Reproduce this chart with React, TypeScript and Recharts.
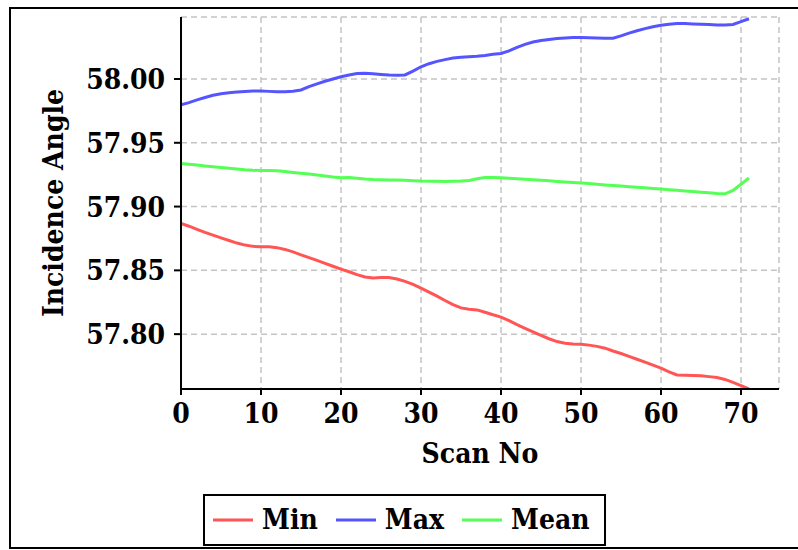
import React from 'react';
import { LineChart, Line, XAxis, YAxis, CartesianGrid, Legend } from 'recharts';

const scanNo = Array.from({ length: 72 }, (_, i) => i);

const minValues = [
  57.8868, 57.8846, 57.8822, 57.8798, 57.8776, 57.8755, 57.8734, 57.8714, 57.8698, 57.8688,
  57.8686, 57.8685, 57.8678, 57.8664, 57.8645, 57.8622, 57.86, 57.8578, 57.8555, 57.8532,
  57.851, 57.8489, 57.8467, 57.8448, 57.8441, 57.8444, 57.8444, 57.8432, 57.8414, 57.839,
  57.836, 57.833, 57.8298, 57.8264, 57.8232, 57.8206, 57.8196, 57.819, 57.8172, 57.8152,
  57.8134, 57.8106, 57.8074, 57.8046, 57.8018, 57.799, 57.7964, 57.7942, 57.7928, 57.7923,
  57.7921, 57.7914, 57.7904, 57.789, 57.7868, 57.7848, 57.7826, 57.7803, 57.778, 57.7757,
  57.7733, 57.7705, 57.768, 57.7677, 57.7675, 57.7673, 57.7667, 57.766, 57.7645, 57.7622,
  57.7597, 57.757,
];

const maxValues = [
  57.9797, 57.9815, 57.9836, 57.9855, 57.9872, 57.9884, 57.9892, 57.9898, 57.9902, 57.9905,
  57.9906, 57.9903, 57.9901, 57.9901, 57.9904, 57.9914, 57.994, 57.9962, 57.9982, 58.0,
  58.0018, 58.0032, 58.0043, 58.0045, 58.0042, 58.0036, 58.0031, 58.003, 58.0032, 58.0062,
  58.0096, 58.012, 58.0138, 58.0152, 58.0164, 58.017, 58.0174, 58.0178, 58.0185, 58.0194,
  58.02, 58.022, 58.0248, 58.0272, 58.029, 58.0302, 58.031, 58.0318, 58.0322, 58.0325,
  58.0326, 58.0324, 58.0322, 58.032, 58.032, 58.0338, 58.036, 58.0378, 58.0395, 58.041,
  58.0422, 58.043, 58.0435, 58.0435, 58.0432, 58.043, 58.0428, 58.0424, 58.0424, 58.0427,
  58.045, 58.0472,
];

const meanValues = [
  57.9337, 57.9331, 57.9325, 57.9318, 57.9312, 57.9306, 57.93, 57.9294, 57.9288, 57.9284,
  57.9282, 57.9283, 57.928, 57.9274, 57.9268, 57.9262, 57.9255, 57.9248, 57.924, 57.9232,
  57.9226, 57.9228, 57.9222, 57.9216, 57.9212, 57.921, 57.9208, 57.9208, 57.9206, 57.9203,
  57.92, 57.9199, 57.9198, 57.9197, 57.9198, 57.92, 57.9205, 57.9218, 57.9228, 57.9228,
  57.9226, 57.9222, 57.9218, 57.9214, 57.921, 57.9206, 57.9202, 57.9197, 57.9193, 57.9189,
  57.9184, 57.918, 57.9175, 57.917, 57.9166, 57.9161, 57.9156, 57.9152, 57.9147, 57.9142,
  57.9137, 57.9132, 57.9127, 57.9123, 57.9118, 57.9113, 57.9108, 57.9103, 57.91, 57.9126,
  57.9175, 57.9224,
];

const xTicks = [0, 10, 20, 30, 40, 50, 60, 70];
const yTicks = [57.8, 57.85, 57.9, 57.95, 58.0];
const seriesNames = ['Min', 'Max', 'Mean'];
const seriesColors = ['#ff5555', '#5555ff', '#55ff55'];
const xLabel = 'Scan No';
const yLabel = 'Incidence Angle';

const data = scanNo.map((s, i) => ({
  scan: s,
  Min: minValues[i],
  Max: maxValues[i],
  Mean: meanValues[i],
}));

const FONT = "'DejaVu Serif Condensed', 'DejaVu Serif', serif";
const tickStyle = {
  fontFamily: FONT,
  fontWeight: 'bold',
  fontSize: 28,
  fill: '#000',
  fontStretch: 'condensed',
} as any;

const YLabel = (props: any) => {
  const vb = props.viewBox || {};
  const x = vb.x + 52;
  const y = vb.y + vb.height / 2;
  return (
    <text
      x={x}
      y={y}
      transform={`rotate(-90, ${x}, ${y})`}
      textAnchor="middle"
      style={tickStyle}
    >
      {yLabel}
    </text>
  );
};

const LegendBox = () => (
  <div
    style={{
      display: 'flex',
      alignItems: 'center',
      border: '2px solid #000',
      height: 52,
      width: 403,
      boxSizing: 'border-box',
      padding: '0 10px 0 8px',
      background: '#fff',
      fontFamily: FONT,
      fontWeight: 'bold',
      fontSize: 28,
      fontStretch: 'condensed',
      color: '#000',
    }}
  >
    {seriesNames.map((n, i) => (
      <div key={n} style={{ display: 'flex', alignItems: 'center', marginRight: i < seriesNames.length - 1 ? 18 : 0 }}>
        <svg width={40} height={4} style={{ display: 'block' }}>
          <line x1={0} y1={2} x2={40} y2={2} stroke={seriesColors[i]} strokeWidth={3} />
        </svg>
        <span style={{ marginLeft: 9, lineHeight: 1 }}>{n}</span>
      </div>
    ))}
  </div>
);

export default function App() {
  return (
    <div style={{ position: 'absolute', left: 0, top: 0, width: 798, height: 550 }}>
      <div
        style={{
          position: 'absolute',
          left: 9,
          top: 7,
          width: 800,
          height: 542,
          border: '2px solid #000',
          boxSizing: 'border-box',
        }}
      />
      <div style={{ position: 'absolute', left: 0, top: 0 }}>
        <LineChart
          width={798}
          height={550}
          data={data}
          margin={{ top: 17, right: 19, left: 11, bottom: 71 }}
        >
          <CartesianGrid stroke="#c4c4c4" strokeDasharray="6 4" strokeWidth={1.5} />
          <XAxis
            dataKey="scan"
            type="number"
            domain={[0, 74.75]}
            ticks={xTicks}
            allowDataOverflow
            height={90}
            tickSize={6}
            tickMargin={8}
            tick={tickStyle}
            axisLine={{ stroke: '#000', strokeWidth: 2 }}
            tickLine={{ stroke: '#000', strokeWidth: 2 }}
            label={{ value: xLabel, position: 'insideBottom', offset: 16, style: tickStyle }}
          />
          <YAxis
            type="number"
            domain={[57.757, 58.0486]}
            ticks={yTicks}
            allowDataOverflow
            width={170}
            tickSize={7}
            tickMargin={9}
            tick={tickStyle}
            tickFormatter={(v: number) => v.toFixed(2)}
            axisLine={{ stroke: '#000', strokeWidth: 2 }}
            tickLine={{ stroke: '#000', strokeWidth: 2 }}
            label={<YLabel />}
          />
          {seriesNames.map((n, i) => (
            <Line
              key={n}
              dataKey={n}
              type="linear"
              stroke={seriesColors[i]}
              strokeWidth={3}
              dot={false}
              activeDot={false}
              isAnimationActive={false}
            />
          ))}
          <Legend
            verticalAlign="middle"
            align="center"
            wrapperStyle={{ left: 203, top: 494, width: 403, height: 52 }}
            content={<LegendBox />}
          />
        </LineChart>
      </div>
    </div>
  );
}
